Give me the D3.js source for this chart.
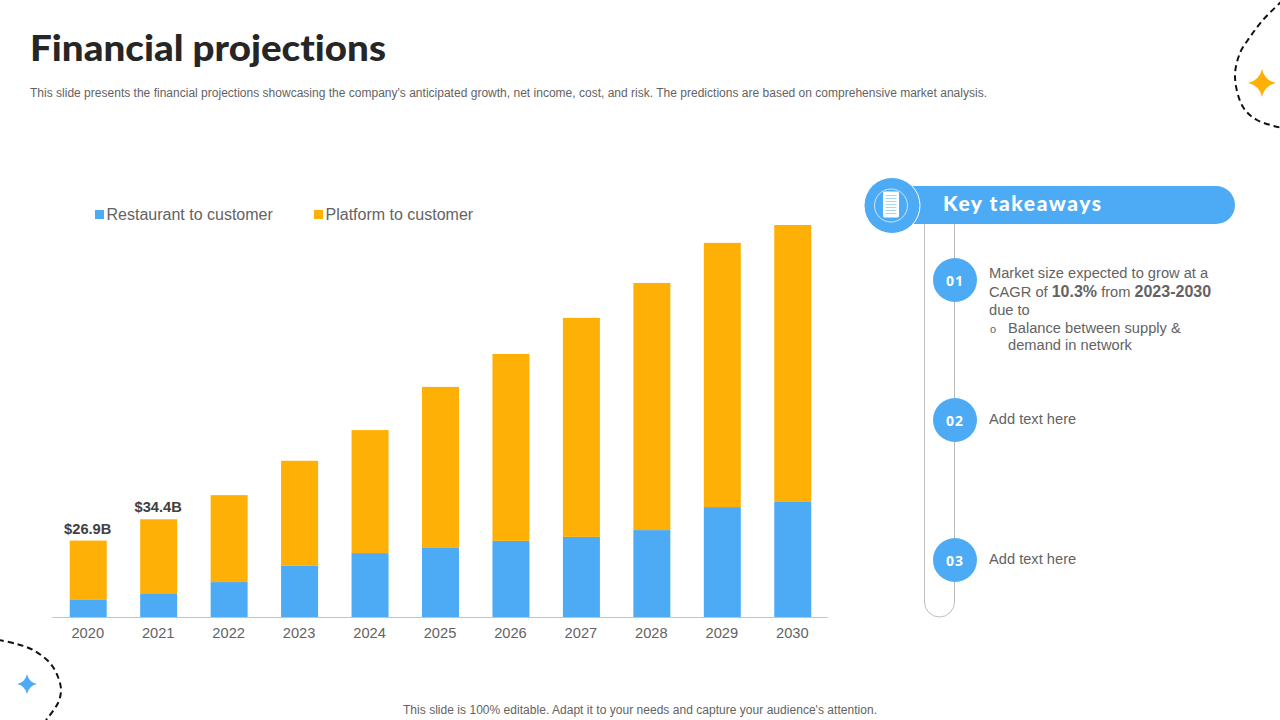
<!DOCTYPE html>
<html>
<head>
<meta charset="utf-8">
<script src="https://cdn.jsdelivr.net/npm/d3@7"></script>
<style>
  html, body { margin: 0; padding: 0; background: #fff; }
  svg { display: block; }
  text { font-family: "Liberation Sans", Arial, sans-serif; font-variant-ligatures: none; }
</style>
</head>
<body>
<svg width="1280" height="720"></svg>
<script>
// values in $B
var years = ["2020", "2021", "2022", "2023", "2024", "2025", "2026", "2027", "2028", "2029", "2030"];
var restaurant = [6.0, 8.1, 12.3, 18.0, 22.5, 24.3, 26.8, 28.2, 30.6, 38.7, 40.5];
var platform = [20.9, 26.3, 30.6, 37.0, 43.3, 56.7, 65.8, 77.1, 87.0, 93.0, 97.5];
var seriesNames = ["Restaurant to customer", "Platform to customer"];
var totalLabels = ["$26.9B", "$34.4B"];
var steps = ["01", "02", "03"];

var BLUE = "#4dabf5", ORANGE = "#ffb006", GREY = "#636363";

var svg = d3.select("svg");

// header and footer
svg.append("text").attr("x", 30).attr("y", 61)
    .style("font-family", "Lato").style("font-weight", 900).style("font-size", "36px")
    .attr("textLength", 356).attr("lengthAdjust", "spacingAndGlyphs")
    .attr("fill", "#262626").text("Financial projections");

svg.append("text").attr("x", 30).attr("y", 97)
    .style("font-size", "12px").attr("fill", GREY)
    .attr("textLength", 957).attr("lengthAdjust", "spacing")
    .text("This slide presents the financial projections showcasing the company's anticipated growth, net income, cost, and risk. The predictions are based on comprehensive market analysis.");

svg.append("text").attr("x", 640).attr("y", 714).attr("text-anchor", "middle")
    .style("font-size", "12px").attr("fill", GREY)
    .attr("textLength", 474).attr("lengthAdjust", "spacing")
    .text("This slide is 100% editable. Adapt it to your needs and capture your audience's attention.");

// chart
var rows = years.map(function (y, i) {
    return { year: y, restaurant: restaurant[i], platform: platform[i] };
});

var x = d3.scaleBand().domain(years).range([53, 828]).paddingInner(0.475).paddingOuter(0.2375);
var y = d3.scaleLinear().domain([0, 138]).range([617, 225]);

var stack = d3.stack().keys(["restaurant", "platform"]);
var color = d3.scaleOrdinal().domain(["restaurant", "platform"]).range([BLUE, ORANGE]);

svg.selectAll(".layer")
    .data(stack(rows))
    .enter().append("g")
    .attr("class", "layer")
    .attr("fill", function (d) { return color(d.key); })
    .selectAll("rect")
    .data(function (d) { return d; })
    .enter().append("rect")
    .attr("x", function (d) { return x(d.data.year); })
    .attr("y", function (d) { return y(d[1]); })
    .attr("width", x.bandwidth())
    .attr("height", function (d) { return y(d[0]) - y(d[1]); });

var axis = svg.append("g")
    .attr("transform", "translate(0,617)")
    .call(d3.axisBottom(x).tickSize(0).tickPadding(11));
axis.select(".domain").attr("d", "M52,0.5H828").attr("stroke", "#bfc4cc");
axis.selectAll("text")
    .attr("dx", -0.5)
    .style("font-size", "14.67px").style("font-family", "Liberation Sans").attr("fill", GREY);

svg.selectAll(".total")
    .data(totalLabels)
    .enter().append("text")
    .attr("class", "total")
    .attr("x", function (d, i) { return x(years[i]) + x.bandwidth() / 2 - 0.5; })
    .attr("y", function (d, i) { return y(restaurant[i] + platform[i]) - 7; })
    .attr("text-anchor", "middle")
    .style("font-size", "14.67px").style("font-weight", "bold")
    .attr("fill", "#404040")
    .text(function (d) { return d; });

// legend
var legend = svg.selectAll(".legend")
    .data(seriesNames)
    .enter().append("g")
    .attr("class", "legend")
    .attr("transform", function (d, i) { return "translate(" + (i == 0 ? 95 : 314) + ",210)"; });
legend.append("rect").attr("width", 9).attr("height", 9)
    .attr("fill", function (d, i) { return i == 0 ? BLUE : ORANGE; });
legend.append("text").attr("x", 11.5).attr("y", 10)
    .style("font-size", "16px").attr("fill", GREY)
    .text(function (d) { return d; });

// dashed corner curves and stars
var curve = d3.line().curve(d3.curveCatmullRom.alpha(0.5));
function dashed(points) {
    svg.append("path").attr("d", curve(points)).attr("fill", "none")
        .attr("stroke", "#111").attr("stroke-width", 2).attr("stroke-dasharray", "6 4");
}
dashed([[1282, 1], [1263, 20], [1250, 37], [1240, 53], [1235, 77], [1243, 107], [1257, 120], [1282, 128]]);
dashed([[-2, 640], [17, 644], [33, 650], [50, 663], [58, 677], [61, 690], [58, 703], [46, 720]]);

function star(cx, cy, r, fill) {
    var k = r * 0.18;
    svg.append("path")
        .attr("transform", "translate(" + cx + "," + cy + ")")
        .attr("fill", fill)
        .attr("d", "M0," + -r + "Q" + k + "," + -k + " " + r + ",0Q" + k + "," + k + " 0," + r +
            "Q" + -k + "," + k + " " + -r + ",0Q" + -k + "," + -k + " 0," + -r + "Z");
}
star(1262, 83, 14, ORANGE);
star(27, 684, 10, BLUE);

// takeaways panel
svg.append("path")
    .attr("d", "M924.5,224V602a15,15 0 0 0 30,0V224")
    .attr("fill", "none").attr("stroke", "#bdbdbd").attr("stroke-width", 1);

svg.append("rect").attr("x", 892).attr("y", 186).attr("width", 343).attr("height", 38)
    .attr("rx", 19).attr("fill", BLUE);
svg.append("text").attr("x", 943).attr("y", 211)
    .style("font-family", "Lato").style("font-weight", 900).style("font-size", "21px")
    .attr("textLength", 158).attr("lengthAdjust", "spacing")
    .attr("fill", "#fff").text("Key takeaways");

svg.append("circle").attr("cx", 892).attr("cy", 205.5).attr("r", 28)
    .attr("fill", BLUE).attr("stroke", "#fff").attr("stroke-width", 1);
svg.append("circle").attr("cx", 891).attr("cy", 205.5).attr("r", 16.5)
    .attr("fill", "none").attr("stroke", "#fff").attr("stroke-opacity", 0.7).attr("stroke-width", 1);
svg.append("rect").attr("x", 883).attr("y", 191.5).attr("width", 16).attr("height", 26)
    .attr("rx", 1.5).attr("fill", "#fff");
svg.selectAll(".docline").data(d3.range(7)).enter().append("line")
    .attr("class", "docline")
    .attr("x1", 885.5).attr("x2", 896.5)
    .attr("y1", function (d) { return 195.5 + d * 3; })
    .attr("y2", function (d) { return 195.5 + d * 3; })
    .attr("stroke", "#a9d5fa").attr("stroke-width", 1);

var stepY = d3.scalePoint().domain(steps).range([280, 560]);
var stepG = svg.selectAll(".step").data(steps).enter().append("g")
    .attr("class", "step")
    .attr("transform", function (d) { return "translate(955," + stepY(d) + ")"; });
stepG.append("circle").attr("r", 22).attr("fill", BLUE);
stepG.append("text").attr("y", 6).attr("text-anchor", "middle")
    .style("font-family", "Open Sans").style("font-weight", "bold").style("font-size", "14px")
    .style("letter-spacing", "1px")
    .attr("fill", "#fff").text(function (d) { return d; });

function para(px, py, parts, size) {
    var base = size || "14.67px";
    var t = svg.append("text").attr("x", px).attr("y", py)
        .style("font-size", base).attr("fill", GREY);
    parts.forEach(function (p) {
        t.append("tspan").text(p[0])
            .style("font-weight", p[1] ? "bold" : "normal")
            .style("font-size", p[1] ? "16px" : base);
    });
}
para(989, 278, [["Market size expected to grow at a"]]);
para(989, 297, [["CAGR of "], ["10.3%", 1], [" from "], ["2023-2030", 1]]);
para(989, 315, [["due to"]]);
para(990, 333, [["o"]], "11px");
para(1008, 333, [["Balance between supply &"]]);
para(1008, 350, [["demand in network"]]);
para(989, 424, [["Add text here"]]);
para(989, 564, [["Add text here"]]);
</script>
</body>
</html>
